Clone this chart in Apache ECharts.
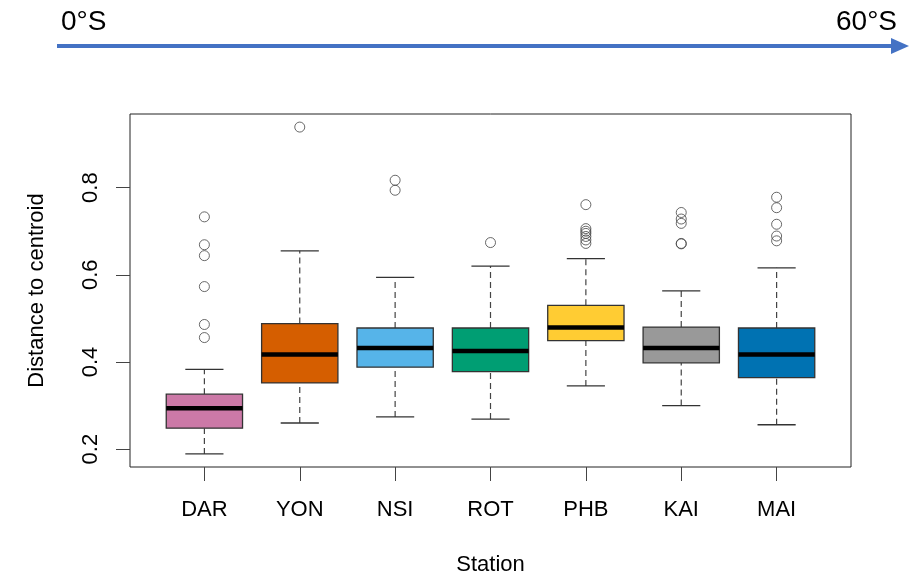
<!DOCTYPE html>
<html>
<head>
<meta charset="utf-8">
<script src="https://cdn.jsdelivr.net/npm/echarts@6/dist/echarts.min.js"></script>
<style>
  html, body { margin: 0; padding: 0; background: #fff; }
  #container { width: 915px; height: 577px; }
</style>
</head>
<body>
<div id="container"></div>
<script>
// station order along the latitude gradient
var stations = ['DAR', 'YON', 'NSI', 'ROT', 'PHB', 'KAI', 'MAI'];
var lowWhisker = [0.189, 0.260, 0.274, 0.269, 0.345, 0.300, 0.256];
var q1 = [0.248, 0.352, 0.388, 0.378, 0.449, 0.398, 0.364];
var medians = [0.294, 0.417, 0.432, 0.425, 0.479, 0.432, 0.417];
var q3 = [0.326, 0.488, 0.478, 0.478, 0.530, 0.480, 0.478];
var highWhisker = [0.383, 0.655, 0.594, 0.620, 0.637, 0.563, 0.616];
var outliers = [
    [0.733, 0.669, 0.644, 0.573, 0.486, 0.456],
    [0.939],
    [0.817, 0.794],
    [0.674],
    [0.761, 0.706, 0.700, 0.695, 0.688, 0.680, 0.672],
    [0.743, 0.728, 0.718, 0.672, 0.671],
    [0.778, 0.754, 0.716, 0.689, 0.678]
];
var yTicks = [0.2, 0.4, 0.6, 0.8];
var boxColors = ['#CC79A7', '#D55E00', '#56B4E9', '#009E73', '#FFCC33', '#999999', '#0072B2'];

var boxData = [];
var outData = [];
for (var i = 0; i < stations.length; i++) {
    boxData.push([i + 1, lowWhisker[i], q1[i], medians[i], q3[i], highWhisker[i]]);
    for (var j = 0; j < outliers[i].length; j++) {
        outData.push([i + 1, outliers[i][j]]);
    }
}

function renderBox(params, api) {
    var x = api.value(0);
    var idx = params.dataIndex;
    var lo = api.coord([x, api.value(1)]);
    var b1 = api.coord([x, api.value(2)]);
    var md = api.coord([x, api.value(3)]);
    var b3 = api.coord([x, api.value(4)]);
    var hi = api.coord([x, api.value(5)]);
    var half = api.size([0.4, 0])[0];
    var cap = api.size([0.2, 0])[0];
    var dash = { stroke: '#444', lineWidth: 1.2, lineDash: [6, 4] };
    var solid = { stroke: '#333', lineWidth: 1.3 };
    return {
        type: 'group',
        children: [
            { type: 'line', shape: { x1: lo[0], y1: lo[1], x2: b1[0], y2: b1[1] }, style: dash },
            { type: 'line', shape: { x1: b3[0], y1: b3[1], x2: hi[0], y2: hi[1] }, style: dash },
            { type: 'line', shape: { x1: lo[0] - cap, y1: lo[1], x2: lo[0] + cap, y2: lo[1] }, style: solid },
            { type: 'line', shape: { x1: hi[0] - cap, y1: hi[1], x2: hi[0] + cap, y2: hi[1] }, style: solid },
            { type: 'rect', shape: { x: b3[0] - half, y: b3[1], width: half * 2, height: b1[1] - b3[1] },
              style: { fill: boxColors[idx], stroke: '#333', lineWidth: 1.3 } },
            { type: 'line', shape: { x1: md[0] - half, y1: md[1], x2: md[0] + half, y2: md[1] },
              style: { stroke: '#000', lineWidth: 4.5 } }
        ]
    };
}

var dom = document.getElementById('container');
var myChart = echarts.init(dom);
var option = {
    animation: false,
    textStyle: { fontFamily: 'Liberation Sans' },
    grid: {
        left: 130, right: 64, top: 114, bottom: 110,
        show: true, borderColor: '#222', borderWidth: 1,
        outerBoundsMode: 'none'
    },
    xAxis: {
        type: 'value',
        min: 0.22, max: 7.78,
        name: 'Station',
        nameLocation: 'middle',
        nameGap: 87,
        nameTextStyle: { fontSize: 22, color: '#000', fontFamily: 'Liberation Sans' },
        axisLine: { show: false },
        splitLine: { show: false },
        axisTick: { show: true, length: 14, customValues: [1, 2, 3, 4, 5, 6, 7], lineStyle: { color: '#444' } },
        axisLabel: {
            customValues: [1, 2, 3, 4, 5, 6, 7],
            formatter: function (v) { return stations[Math.round(v) - 1]; },
            fontSize: 22, color: '#000', margin: 32, fontFamily: 'Liberation Sans'
        }
    },
    yAxis: {
        type: 'value',
        min: 0.159, max: 0.969,
        name: 'Distance to centroid',
        nameLocation: 'middle',
        nameGap: 82,
        nameTextStyle: { fontSize: 22, color: '#000', fontFamily: 'Liberation Sans' },
        axisLine: { show: false },
        splitLine: { show: false },
        axisTick: { show: true, length: 14, customValues: yTicks, lineStyle: { color: '#444' } },
        axisLabel: {
            customValues: yTicks,
            rotate: 90,
            formatter: function (v) { return v.toFixed(1); },
            fontSize: 22, color: '#000', margin: 28, fontFamily: 'Liberation Sans'
        }
    },
    graphic: [
        { type: 'line', shape: { x1: 57, y1: 46, x2: 893, y2: 46 },
          style: { stroke: '#4472C4', lineWidth: 4 } },
        { type: 'polygon', shape: { points: [[891, 38], [909, 46], [891, 54]] },
          style: { fill: '#4472C4' } },
        { type: 'text', left: 61, top: 8,
          style: { text: '0°S', font: '28px "Liberation Sans"', fill: '#000' } },
        { type: 'text', right: 18, top: 8,
          style: { text: '60°S', font: '28px "Liberation Sans"', fill: '#000' } }
    ],
    series: [
        {
            name: 'box',
            type: 'custom',
            renderItem: renderBox,
            encode: { x: 0, y: [1, 2, 3, 4, 5] },
            data: boxData,
            z: 2
        },
        {
            name: 'outliers',
            type: 'scatter',
            symbol: 'circle',
            symbolSize: 10,
            itemStyle: { color: 'rgba(255,255,255,0)', borderColor: '#444', borderWidth: 1 },
            data: outData,
            z: 3
        }
    ]
};
myChart.setOption(option);
</script>
</body>
</html>
